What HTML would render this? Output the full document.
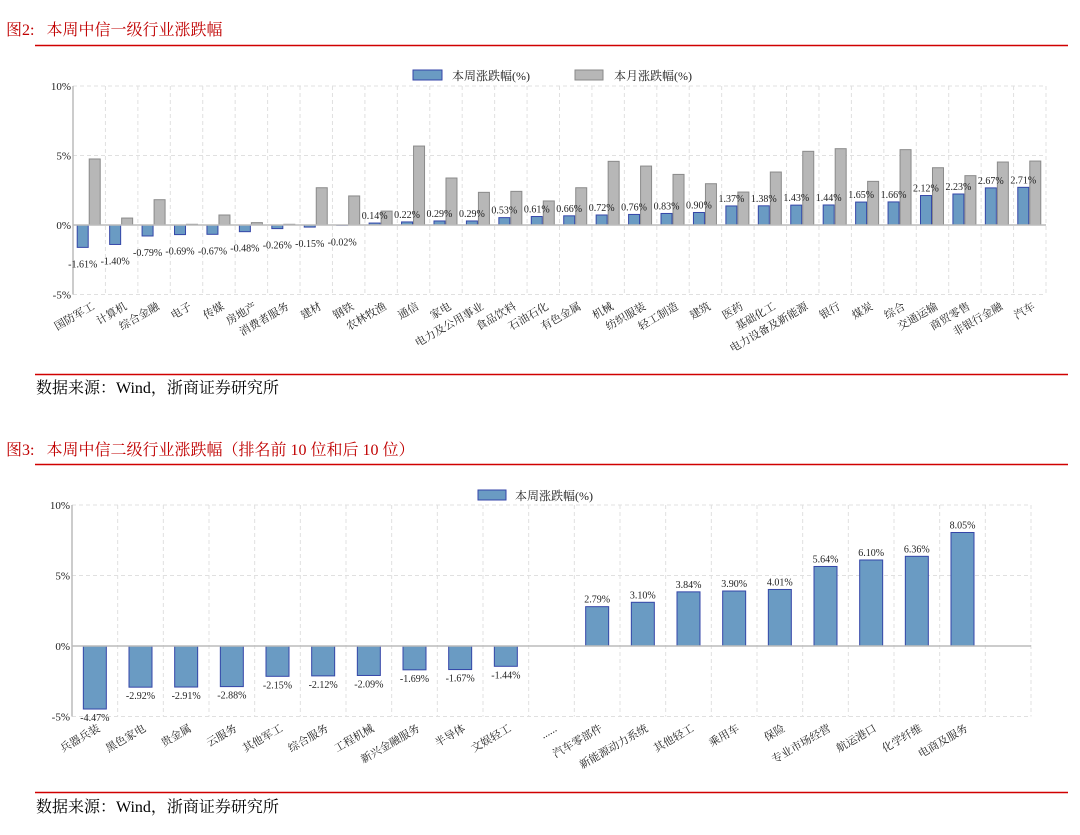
<!DOCTYPE html>
<html><head><meta charset="utf-8">
<style>
body{margin:0;background:#fff;width:1080px;height:830px;overflow:hidden;font-family:"Liberation Serif","Noto Serif CJK SC",serif;}
svg text{font-family:"Liberation Serif","Noto Serif CJK SC",serif;}
</style></head>
<body>
<svg id="s" width="1080" height="830" xmlns="http://www.w3.org/2000/svg">
<text x="6" y="35" font-size="16" fill="#c00000">图2:&#160;&#160;&#160;本周中信一级行业涨跌幅</text>
<line x1="35" y1="45.5" x2="1068" y2="45.5" stroke="#d00000" stroke-width="1.5"/>
<line x1="35" y1="374.5" x2="1068" y2="374.5" stroke="#d00000" stroke-width="1.5"/>
<text x="36" y="393" font-size="16" fill="#000">数据来源：Wind，浙商证券研究所</text>
<text x="6" y="455" font-size="16" fill="#c00000">图3:&#160;&#160;&#160;本周中信二级行业涨跌幅（排名前 10 位和后 10 位）</text>
<line x1="35" y1="464.5" x2="1068" y2="464.5" stroke="#d00000" stroke-width="1.5"/>
<line x1="35" y1="792.5" x2="1068" y2="792.5" stroke="#d00000" stroke-width="1.5"/>
<text x="36" y="812" font-size="16" fill="#000">数据来源：Wind，浙商证券研究所</text>
<g id="c1"></g>
<g id="c2"></g>
</svg>
<script>
const cats1=["国防军工","计算机","综合金融","电子","传媒","房地产","消费者服务","建材","钢铁","农林牧渔","通信","家电","电力及公用事业","食品饮料","石油石化","有色金属","机械","纺织服装","轻工制造","建筑","医药","基础化工","电力设备及新能源","银行","煤炭","综合","交通运输","商贸零售","非银行金融","汽车"];
const week1=[-1.61,-1.40,-0.79,-0.69,-0.67,-0.48,-0.26,-0.15,-0.02,0.14,0.22,0.29,0.29,0.53,0.61,0.66,0.72,0.76,0.83,0.90,1.37,1.38,1.43,1.44,1.65,1.66,2.12,2.23,2.67,2.71];
const month1=[4.75,0.5,1.82,0.05,0.72,0.17,0.05,2.68,2.09,1.0,5.68,3.38,2.35,2.42,1.73,2.68,4.58,4.24,3.64,2.97,2.37,3.81,5.3,5.49,3.14,5.42,4.12,3.55,4.53,4.6];
const ticks1=[-5,0,5,10];
const cats2=["兵器兵装","黑色家电","贵金属","云服务","其他军工","综合服务","工程机械","新兴金融服务","半导体","文娱轻工","......","汽车零部件","新能源动力系统","其他轻工","乘用车","保险","专业市场经营","航运港口","化学纤维","电商及服务"];
const week2=[-4.47,-2.92,-2.91,-2.88,-2.15,-2.12,-2.09,-1.69,-1.67,-1.44,null,2.79,3.10,3.84,3.90,4.01,5.64,6.10,6.36,8.05];
const ticks2=[-5,0,5,10];

const NS="http://www.w3.org/2000/svg";
function mk(p,tag,a){const e=document.createElementNS(NS,tag);for(const k in a)e.setAttribute(k,a[k]);p.appendChild(e);return e;}
function fmt(v){return v.toFixed(2)+"%";}

function chart(g,o){
  const y=v=>o.y0-(v)*(o.y0-o.y10)/10;
  const n=o.ncat, cw=(o.x1-o.x0)/n;
  const xc=i=>o.x0+cw*(i+0.5);
  for(let i=1;i<=n;i++){const l=mk(g,'line',{x1:o.x0+cw*i,x2:o.x0+cw*i,y1:y(10),y2:y(-5),stroke:'#e0e0e0','stroke-dasharray':'4,3'});
    }
  o.ticks.forEach(t=>{
    if(t!==0){const l=mk(g,'line',{x1:o.x0,x2:o.x1,y1:y(t),y2:y(t),stroke:'#e0e0e0','stroke-dasharray':'4,3'});
      }
    const tx=mk(g,'text',{x:o.x0-2,y:y(t)+4,'font-size':11,'text-anchor':'end',fill:'#222'});tx.textContent=t+'%';
    
  });
  const ax=mk(g,'line',{x1:o.x0,x2:o.x0,y1:y(10),y2:y(-5),stroke:'#bbb','stroke-width':1.5});
  
  const labels=[];
  o.cats.forEach((c,i)=>{
    const cx=xc(i);
    const v=o.week[i];
    if(v!==null){
      const bx=o.month?cx-o.bw-1:cx-o.bw/2;
      const r=mk(g,'rect',{x:bx,y:Math.min(y(v),y(0)),width:o.bw,height:Math.abs(y(v)-y(0)),fill:'#6a9bc3',stroke:'#3446a8','stroke-width':1});
      
      labels.push([bx+o.bw/2,v>=0?y(v)-4:y(v)+o.negOff,v]);
    }
    if(o.month){
      const m=o.month[i];
      const r=mk(g,'rect',{x:cx,y:Math.min(y(m),y(0)),width:o.bw,height:Math.abs(y(m)-y(0)),fill:'#b7b7b7',stroke:'#8a8a8a','stroke-width':1});
      
    }
    const lt=mk(g,'text',{transform:`translate(${cx+6},${y(-5)+14}) rotate(-30)`,'font-size':11,'text-anchor':'end',fill:'#222'});lt.textContent=c;
    
  });
  const z=mk(g,'line',{x1:o.x0,x2:o.x1,y1:y(0),y2:y(0),stroke:'#bbb','stroke-width':1.5});
  
  labels.forEach(L=>{
    const t=mk(g,'text',{x:L[0],y:L[1],'font-size':o.fs,'text-anchor':'middle',fill:'#222'});t.textContent=fmt(L[2]);
    
  });
}
const g1=document.getElementById('c1'),g2=document.getElementById('c2');
chart(g1,{x0:73,x1:1046,y0:225,y10:86,ncat:30,cats:cats1,week:week1,month:month1,ticks:ticks1,bw:11,fs:10,negOff:20});
chart(g2,{x0:72,x1:1031,y0:646,y10:505,ncat:21,cats:cats2,week:week2,month:null,ticks:ticks2,bw:23,fs:10,negOff:12});
let e;
e=mk(g1,'rect',{x:413,y:70,width:29,height:10,fill:'#6a9bc3',stroke:'#3446a8'});
e=mk(g1,'text',{x:452,y:80,'font-size':12,fill:'#222'});e.textContent='本周涨跌幅(%)';
e=mk(g1,'rect',{x:575,y:70,width:28,height:10,fill:'#b7b7b7',stroke:'#8a8a8a'});
e=mk(g1,'text',{x:614,y:80,'font-size':12,fill:'#222'});e.textContent='本月涨跌幅(%)';
e=mk(g2,'rect',{x:478,y:490,width:28,height:10,fill:'#6a9bc3',stroke:'#3446a8'});
e=mk(g2,'text',{x:515,y:500,'font-size':12,fill:'#222'});e.textContent='本周涨跌幅(%)';
</script>
</body></html>
